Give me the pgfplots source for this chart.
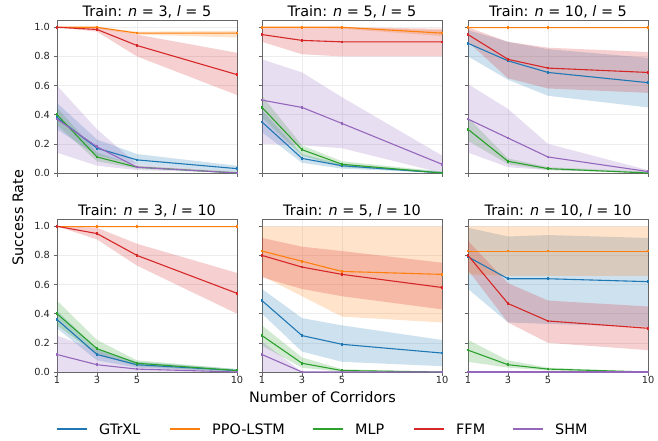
\documentclass[border=0pt]{standalone}
\usepackage{fontspec}
\setmainfont{DejaVu Sans}
\usepackage{pgfplots}
\usepackage{pgfplotstable}
\pgfplotsset{compat=1.18}

\definecolor{colGT}{HTML}{1F77B4}
\definecolor{colPPO}{HTML}{FF7F0E}
\definecolor{colMLP}{HTML}{2CA02C}
\definecolor{colFFM}{HTML}{D62728}
\definecolor{colSHM}{HTML}{9467BD}

% means: GTrXL (g), PPO-LSTM (p), MLP (m), FFM (f), SHM (s)
% bands: upper edge at x = 1,3,5,10, then lower edge back from 10 to 1
\pgfplotstableread{
x  g    p    m    f     s
1  0.38 1.00 0.40 1.00  0.37
3  0.17 1.00 0.11 0.985 0.18
5  0.09 0.96 0.04 0.875 0.04
10 0.03 0.96 0.00 0.675 0.00
}\mA
\pgfplotstableread{
x  g    p     m    f     s
1  0.48 1.00  0.45 1.00  0.60
3  0.23 1.00  0.14 1.00  0.30
5  0.13 0.97  0.05 0.95  0.06
10 0.05 0.975 0.01 0.825 0.01
10 0.01 0.93  0.00 0.535 0.00
5  0.06 0.95  0.03 0.80  0.02
3  0.12 0.99  0.08 0.97  0.05
1  0.30 1.00  0.33 1.00  0.14
}\bA
\pgfplotstableread{
x  g    p    m    f    s
1  0.35 1.00 0.45 0.95 0.50
3  0.10 1.00 0.16 0.91 0.45
5  0.05 1.00 0.06 0.90 0.34
10 0.00 0.96 0.00 0.90 0.06
}\mB
\pgfplotstableread{
x  g    p    m    f     s
1  0.43 1.00 0.53 1.00  0.78
3  0.13 1.00 0.19 1.00  0.69
5  0.06 1.00 0.08 1.00  0.52
10 0.01 0.98 0.01 0.99  0.12
10 0.00 0.94 0.00 0.80  0.00
5  0.03 0.99 0.04 0.80  0.17
3  0.07 1.00 0.12 0.815 0.19
1  0.28 1.00 0.38 0.90  0.20
}\bB
\pgfplotstableread{
x  g    p    m    f    s
1  0.89 1.00 0.30 0.95 0.37
3  0.77 1.00 0.08 0.78 0.24
5  0.69 1.00 0.03 0.72 0.11
10 0.62 1.00 0.00 0.69 0.01
}\mC
\pgfplotstableread{
x  g    p    m    f    s
1  0.98 1.00 0.38 1.00 0.61
3  0.90 1.00 0.10 0.90 0.44
5  0.85 1.00 0.04 0.86 0.20
10 0.79 1.00 0.01 0.83 0.02
10 0.45 0.99 0.00 0.55 0.00
5  0.53 0.99 0.02 0.58 0.02
3  0.64 0.99 0.06 0.65 0.04
1  0.80 0.99 0.22 0.90 0.14
}\bC
\pgfplotstableread{
x  g    p    m    f    s
1  0.36 1.00 0.40 1.00 0.12
3  0.12 1.00 0.16 0.95 0.05
5  0.05 1.00 0.06 0.80 0.02
10 0.01 1.00 0.01 0.54 0.00
}\mD
\pgfplotstableread{
x  g    p    m    f    s
1  0.42 1.00 0.49 1.00 0.25
3  0.16 1.00 0.22 0.99 0.15
5  0.07 1.00 0.08 0.88 0.05
10 0.02 1.00 0.02 0.68 0.00
10 0.00 0.99 0.00 0.40 0.00
5  0.03 0.99 0.04 0.73 0.00
3  0.08 0.99 0.12 0.91 0.00
1  0.30 0.99 0.32 1.00 0.00
}\bD
\pgfplotstableread{
x  g    p    m    f    s
1  0.49 0.83 0.25 0.80 0.12
3  0.25 0.76 0.06 0.72 0.00
5  0.19 0.69 0.01 0.67 0.00
10 0.13 0.67 0.00 0.58 0.00
}\mE
\pgfplotstableread{
x  g    p    m    f    s
1  0.57 1.00 0.32 0.92 0.21
3  0.37 1.00 0.10 0.86 0.00
5  0.32 1.00 0.02 0.83 0.00
10 0.22 1.00 0.00 0.75 0.00
10 0.04 0.34 0.00 0.43 0.00
5  0.07 0.38 0.00 0.52 0.00
3  0.14 0.52 0.03 0.57 0.00
1  0.40 0.66 0.18 0.65 0.00
}\bE
\pgfplotstableread{
x  g    p    m    f    s
1  0.79 0.83 0.15 0.80 0.00
3  0.64 0.83 0.05 0.47 0.00
5  0.64 0.83 0.02 0.35 0.00
10 0.62 0.83 0.00 0.30 0.00
}\mF
\pgfplotstableread{
x  g    p    m    f    s
1  0.99 1.00 0.22 0.90 0.00
3  0.93 1.00 0.08 0.61 0.00
5  0.94 1.00 0.03 0.49 0.00
10 0.92 1.00 0.00 0.45 0.00
10 0.31 0.66 0.00 0.15 0.00
5  0.33 0.66 0.01 0.20 0.00
3  0.34 0.66 0.03 0.34 0.00
1  0.57 0.67 0.07 0.70 0.00
}\bF

\newcommand{\band}[3]{\addplot[fill=#3, fill opacity=0.22, draw=none, forget plot] table[x=x, y=#2] {#1};}
\newcommand{\mean}[3]{\addplot[color=#3, line width=1.1pt, mark=|, mark size=1.3pt] table[x=x, y=#2] {#1};}
\newcommand{\panel}[2]{%
  \band{#2}{g}{colGT}\band{#2}{p}{colPPO}\band{#2}{m}{colMLP}\band{#2}{f}{colFFM}\band{#2}{s}{colSHM}
  \mean{#1}{g}{colGT}\mean{#1}{p}{colPPO}\mean{#1}{m}{colMLP}\mean{#1}{f}{colFFM}\mean{#1}{s}{colSHM}}
% legend entry: colour, line start (pt), label
\newcommand{\legitem}[3]{%
  \draw[#1, line width=1.1pt] (#2pt,11pt) -- ++(30pt,0pt);
  \node[anchor=base west, inner sep=0pt, font=\fontsize{14.4}{16}\selectfont] at ([xshift=42pt]#2pt,5.8pt) {#3};}

\pgfplotsset{
  panel/.style={
  scale only axis, width=180pt, height=153pt, anchor=north west,
  xmin=1, xmax=10, ymin=0, ymax=1.05,
  xtick={1,3,5,10}, ytick={0,0.2,0.4,0.6,0.8,1.0},
  grid=major, grid style={black!7, line width=0.5pt},
  axis line style={black!60}, tick style={black!60, line width=0.6pt},
  tick align=outside, tick pos=left, major tick length=3.5pt,
  tick label style={font=\fontsize{9.8}{10}\selectfont, text=black!85},
  xticklabel style={yshift=3pt},
  /pgf/number format/assume math mode=true,
  yticklabel style={/pgf/number format/fixed, /pgf/number format/fixed zerofill, /pgf/number format/precision=1},
  title style={font=\fontsize{14.4}{16}\selectfont, inner sep=0pt, text depth=0pt, yshift=-2.5pt},
  clip=false,
}}

\begin{document}
\begin{tikzpicture}
\useasboundingbox (0,0) rectangle (658pt,440pt);

\begin{axis}[panel, at={(57pt,420pt)}, xticklabels={}, title={Train: \textit{n} = 3, \textit{l} = 5}]
\panel{\mA}{\bA}
\end{axis}
\begin{axis}[panel, at={(262pt,420pt)}, xticklabels={}, yticklabels={}, title={Train: \textit{n} = 5, \textit{l} = 5}]
\panel{\mB}{\bB}
\end{axis}
\begin{axis}[panel, at={(468pt,420pt)}, xticklabels={}, yticklabels={}, title={Train: \textit{n} = 10, \textit{l} = 5}]
\panel{\mC}{\bC}
\end{axis}

\begin{axis}[panel, at={(57pt,221pt)}, title={Train: \textit{n} = 3, \textit{l} = 10}]
\panel{\mD}{\bD}
\end{axis}
\begin{axis}[panel, at={(262pt,221pt)}, yticklabels={}, title={Train: \textit{n} = 5, \textit{l} = 10}]
\panel{\mE}{\bE}
\end{axis}
\begin{axis}[panel, at={(468pt,221pt)}, yticklabels={}, title={Train: \textit{n} = 10, \textit{l} = 10}]
\panel{\mF}{\bF}
\end{axis}

\legitem{colGT}{57}{GTrXL}
\legitem{colPPO}{170}{PPO-LSTM}
\legitem{colMLP}{313}{MLP}
\legitem{colFFM}{414}{FFM}
\legitem{colSHM}{513}{SHM}

\node[rotate=90, font=\fontsize{14.4}{16}\selectfont] at (18pt,222.5pt) {Success Rate};
\node[font=\fontsize{14.4}{16}\selectfont] at (322.5pt,43pt) {Number of Corridors};
\end{tikzpicture}
\end{document}
